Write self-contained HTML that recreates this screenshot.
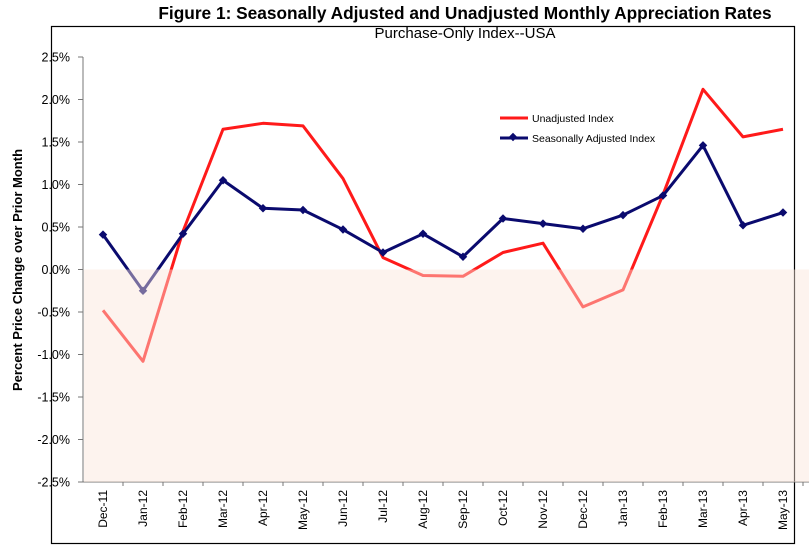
<!DOCTYPE html>
<html><head><meta charset="utf-8"><style>
body{margin:0;background:#fff;}
svg{display:block;font-family:"Liberation Sans",Arial,sans-serif;}
</style></head><body>
<svg id="chart" width="809" height="548">
<rect x="51.5" y="26.5" width="743" height="517" fill="none" stroke="#000" stroke-width="1.2"/>
<text x="465" y="19" text-anchor="middle" font-weight="bold" font-size="17.3">Figure 1: Seasonally Adjusted and Unadjusted Monthly Appreciation Rates</text>
<text x="465" y="38" text-anchor="middle" font-size="15">Purchase-Only Index--USA</text>
<text transform="translate(22,270) rotate(-90)" text-anchor="middle" font-weight="bold" font-size="13">Percent Price Change over Prior Month</text>
<g id="axes"></g>
<g id="series"></g>
<g id="legend">
<line x1="500" y1="118" x2="528" y2="118" stroke="#ff1a1a" stroke-width="3"/>
<text x="532" y="122" font-size="10.5">Unadjusted Index</text>
<line x1="500" y1="138" x2="528" y2="138" stroke="#0a0a6e" stroke-width="3"/>
<rect x="510" y="134" width="6" height="6" transform="rotate(45 513 137)" fill="#0a0a6e"/>
<text x="532" y="142" font-size="10.5">Seasonally Adjusted Index</text>
</g>
</svg>
<script>
const categories=["Dec-11","Jan-12","Feb-12","Mar-12","Apr-12","May-12","Jun-12","Jul-12","Aug-12","Sep-12","Oct-12","Nov-12","Dec-12","Jan-13","Feb-13","Mar-13","Apr-13","May-13"];
const unadjusted=[-0.48,-1.08,0.45,1.65,1.72,1.69,1.07,0.14,-0.07,-0.08,0.20,0.31,-0.44,-0.24,0.88,2.12,1.56,1.65];
const adjusted=[0.41,-0.25,0.42,1.05,0.72,0.70,0.47,0.20,0.42,0.15,0.60,0.54,0.48,0.64,0.87,1.46,0.52,0.67];
const yTicks=[2.5,2.0,1.5,1.0,0.5,0.0,-0.5,-1.0,-1.5,-2.0,-2.5];

const NS="http://www.w3.org/2000/svg";
const X0=83,SLOT=40,YT=57,YB=482,YMAX=2.5,YMIN=-2.5;
const xS=i=>X0+SLOT*(i+0.5);
const yS=v=>YT+(YMAX-v)/(YMAX-YMIN)*(YB-YT);
function mk(tag,attrs,parent){const e=document.createElementNS(NS,tag);for(const k in attrs)e.setAttribute(k,attrs[k]);parent.appendChild(e);return e;}
const axes=document.getElementById('axes'),series=document.getElementById('series');
const XR=X0+SLOT*categories.length+2;
let yl=mk('line',{x1:X0,y1:YT,x2:X0,y2:YB,stroke:'#777'},axes);


yTicks.forEach(v=>{
 const t=mk('line',{x1:X0-5,y1:yS(v),x2:X0,y2:yS(v),stroke:'#777'},axes);
 
 
 const l=mk('text',{x:X0-13,y:yS(v)+4.5,'text-anchor':'end','font-size':'12.5'},axes);
 l.textContent=v.toFixed(1)+'%';
 
 
});
let xl=mk('line',{x1:X0,y1:YB,x2:XR+4,y2:YB,stroke:'#777'},axes);


categories.forEach((c,i)=>{
 const t=mk('line',{x1:X0+SLOT*(i+1),y1:YB,x2:X0+SLOT*(i+1),y2:YB+4,stroke:'#777'},axes);
 
 
 const l=mk('text',{transform:`translate(${xS(i)+4},${YB+8}) rotate(-90)`,'text-anchor':'end','font-size':'12'},axes);
 l.textContent=c;
 
 
});
function poly(vals,color,name){
 const p=mk('polyline',{points:vals.map((v,i)=>xS(i)+','+yS(v)).join(' '),fill:'none',stroke:color,'stroke-width':3,'stroke-linejoin':'round'},series);
 
 
}
poly(unadjusted,'#ff1a1a','unadjusted-line');
poly(adjusted,'#0a0a6e','adjusted-line');
adjusted.forEach((v,i)=>{
 const m=mk('rect',{x:xS(i)-3,y:yS(v)-3,width:6,height:6,transform:`rotate(45 ${xS(i)} ${yS(v)})`,fill:'#0a0a6e'},series);
 
 
});
const sh=mk('rect',{x:X0+1,y:yS(0),width:XR-X0+3,height:YB-yS(0),fill:'rgb(250,229,218)','fill-opacity':0.45},series);


</script>
</body></html>
